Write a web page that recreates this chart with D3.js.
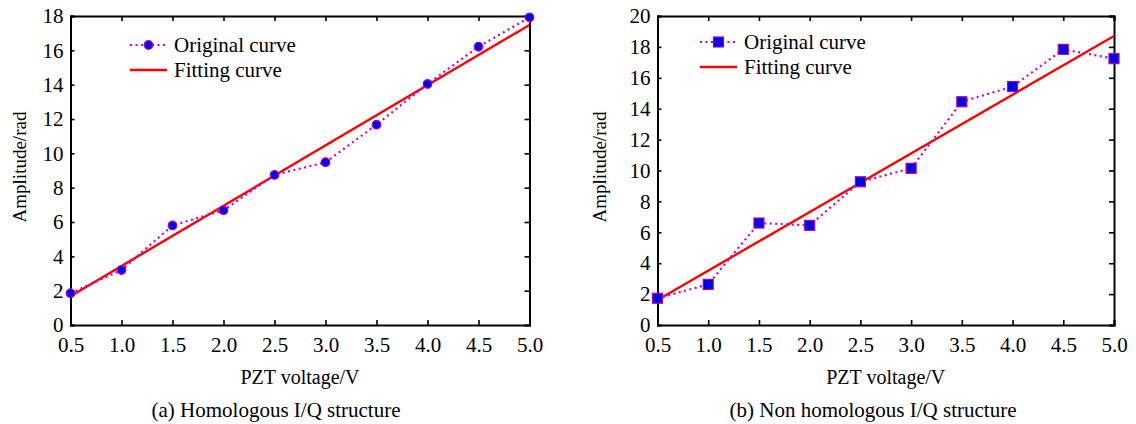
<!DOCTYPE html>
<html>
<head>
<meta charset="utf-8">
<script src="https://cdn.jsdelivr.net/npm/d3@7"></script>
<style>
body{margin:0;background:#fff;}
</style>
</head>
<body>
<svg id="chart" width="1136" height="424"></svg>
<script>
// voltage steps shared by both panels
var voltage=[0.5,1.0,1.5,2.0,2.5,3.0,3.5,4.0,4.5,5.0];
var xTicks=["0.5","1.0","1.5","2.0","2.5","3.0","3.5","4.0","4.5","5.0"];

// (a) homologous
var ampA=[1.85,3.2,5.8,6.68,8.74,9.48,11.67,14.04,16.21,17.92];
var fitA=[[0.5,1.68],[5.0,17.48]];
var yTicksA=[0,2,4,6,8,10,12,14,16,18];

// (b) non homologous
var ampB=[1.73,2.63,6.6,6.45,9.27,10.14,14.45,15.43,17.84,17.24];
var fitB=[[0.5,1.62],[5.0,18.7]];
var yTicksB=[0,2,4,6,8,10,12,14,16,18,20];

var legendNames=["Original curve","Fitting curve"];

var FONT="'Liberation Serif', 'Times New Roman', serif";
var svg=d3.select("#chart");

function panel(o){
  var g=svg.append("g");
  var x=d3.scaleLinear().domain([0.5,5.0]).range([o.x0,o.x1]);
  var y=d3.scaleLinear().domain([0,o.ymax]).range([325,16]);

  // axes: ticks inward on every side
  g.append("g").attr("transform","translate(0,325)")
    .call(d3.axisBottom(x).tickValues(voltage).tickSize(-5).tickFormat(function(d,i){return xTicks[i];}).tickPadding(12));
  g.append("g").attr("transform","translate(0,16)")
    .call(d3.axisTop(x).tickValues(voltage).tickSize(-5).tickFormat(""));
  g.append("g").attr("transform","translate("+o.x0+",0)")
    .call(d3.axisLeft(y).tickValues(o.yticks).tickSize(-4).tickPadding(7).tickFormat(d3.format("d")));
  g.append("g").attr("transform","translate("+o.x1+",0)")
    .call(d3.axisRight(y).tickValues(o.yticks).tickSize(-5).tickFormat(""));

  g.selectAll(".domain").attr("stroke","#000").attr("stroke-width",2);
  g.selectAll(".tick line").attr("stroke","#000").attr("stroke-width",1.6);
  g.selectAll(".tick text").style("font-family",FONT).style("font-size","21px").attr("fill","#000");

  // fit
  g.append("path").datum(o.fit)
    .attr("d",d3.line().x(function(d){return x(d[0]);}).y(function(d){return y(d[1]);}))
    .attr("fill","none").attr("stroke","#ff0000").attr("stroke-width",2.4);

  // original dotted
  var pts=voltage.map(function(v,i){return [v,o.amp[i]];});
  g.append("path").datum(pts)
    .attr("d",d3.line().x(function(d){return x(d[0]);}).y(function(d){return y(d[1]);}))
    .attr("fill","none").attr("stroke","#cc00cc").attr("stroke-width",2.2).attr("stroke-dasharray","2,3.5");

  drawMarkers(g,pts,x,y,o.square);

  // legend
  var lg=g.append("g");
  lg.append("line").attr("x1",o.lx).attr("x2",o.lx+37).attr("y1",o.ly).attr("y2",o.ly)
    .attr("stroke","#cc00cc").attr("stroke-width",2.2).attr("stroke-dasharray","2,3.5");
  var mk=lg.append("g");
  if(o.square) mk.append("rect").attr("x",o.lx+13.5).attr("y",o.ly-5).attr("width",10).attr("height",10)
    .attr("fill","#0000e0").attr("stroke","#b000b0").attr("stroke-width",1.2);
  else mk.append("circle").attr("cx",o.lx+18.5).attr("cy",o.ly).attr("r",4.3)
    .attr("fill","#0000e0").attr("stroke","#b000b0").attr("stroke-width",1.2);
  lg.append("line").attr("x1",o.lx).attr("x2",o.lx+37).attr("y1",o.ly+25).attr("y2",o.ly+25)
    .attr("stroke","#ff0000").attr("stroke-width",2.4);
  lg.selectAll("text").data(legendNames).enter().append("text")
    .attr("x",o.lx+44).attr("y",function(d,i){return o.ly+7+i*25;})
    .style("font-family",FONT).style("font-size","21px").text(function(d){return d;});

  // titles
  g.append("text").attr("x",(o.x0+o.x1)/2).attr("y",384).attr("text-anchor","middle")
    .style("font-family",FONT).style("font-size","20px").text("PZT voltage/V");
  g.append("text").attr("transform","translate("+o.tx+",167) rotate(-90)").attr("text-anchor","middle")
    .style("font-family",FONT).style("font-size","19px").text("Amplitude/rad");
  g.append("text").attr("x",o.cx).attr("y",417).attr("text-anchor","middle")
    .style("font-family",FONT).style("font-size","21px").text(o.caption);
}

function drawMarkers(g,pts,x,y,square){
  if(square){
    g.selectAll("rect.m").data(pts).enter().append("rect").attr("class","m")
      .attr("x",function(d){return x(d[0])-5;}).attr("y",function(d){return y(d[1])-5;})
      .attr("width",10).attr("height",10)
      .attr("fill","#0000e0").attr("stroke","#b000b0").attr("stroke-width",1.2);
  }else{
    g.selectAll("circle.m").data(pts).enter().append("circle").attr("class","m")
      .attr("cx",function(d){return x(d[0]);}).attr("cy",function(d){return y(d[1]);})
      .attr("r",4.3)
      .attr("fill","#0000e0").attr("stroke","#b000b0").attr("stroke-width",1.2);
  }
}

panel({x0:70.5,x1:529.5,ymax:18,yticks:yTicksA,amp:ampA,fit:fitA,square:false,
  lx:130,ly:45,tx:26,cx:276,caption:"(a) Homologous I/Q structure"});
panel({x0:657.5,x1:1114,ymax:20,yticks:yTicksB,amp:ampB,fit:fitB,square:true,
  lx:700,ly:42,tx:606,cx:873,caption:"(b) Non homologous I/Q structure"});
</script>
</body>
</html>
